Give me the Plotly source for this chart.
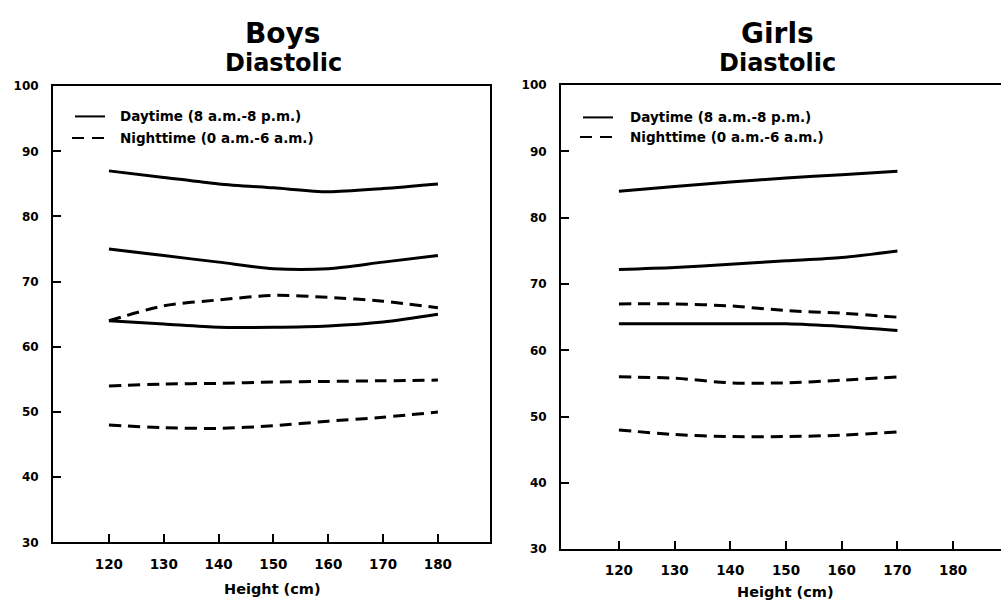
import plotly.graph_objects as go

# ---------------- data ----------------
heights_boys = [120, 130, 140, 150, 160, 170, 180]
heights_girls = [120, 130, 140, 150, 160, 170]
x_ticks = [120, 130, 140, 150, 160, 170, 180]
y_ticks = [30, 40, 50, 60, 70, 80, 90, 100]

boys_day_95 = [87, 86, 85, 84.4, 83.8, 84.3, 85]
boys_day_50 = [75, 74, 73, 72, 72, 73, 74]
boys_day_5 = [64, 63.5, 63, 63, 63.2, 63.8, 65]
boys_night_95 = [64, 66.3, 67.2, 67.9, 67.6, 67, 66]
boys_night_50 = [54, 54.3, 54.4, 54.6, 54.7, 54.8, 54.9]
boys_night_5 = [48, 47.6, 47.5, 47.9, 48.6, 49.2, 50]

girls_day_95 = [84, 84.7, 85.4, 86, 86.5, 87]
girls_day_50 = [72.2, 72.5, 73, 73.5, 74, 75]
girls_day_5 = [64, 64, 64, 64, 63.6, 63]
girls_night_95 = [67, 67, 66.7, 66, 65.6, 65]
girls_night_50 = [56, 55.8, 55.1, 55.1, 55.5, 56]
girls_night_5 = [48, 47.3, 47, 47, 47.2, 47.7]

legend_day = "Daytime (8 a.m.-8 p.m.)"
legend_night = "Nighttime (0 a.m.-6 a.m.)"

# ---------------- figure ----------------
W, H = 1001, 609
FONT = "DejaVu Sans"
DASH = "12px,7px"

def px(x):
    return x / W

def py(y):
    return 1 - y / H

fig = go.Figure()

def add_lines(xs, series, style, xa, ya):
    for s in series:
        fig.add_trace(go.Scatter(
            x=xs, y=s, mode="lines", xaxis=xa, yaxis=ya,
            line=dict(color="black", width=3, dash=style, shape="spline", smoothing=0.8),
            showlegend=False, hoverinfo="skip"))

add_lines(heights_boys, [boys_day_95, boys_day_50, boys_day_5], "solid", "x", "y")
add_lines(heights_boys, [boys_night_95, boys_night_50, boys_night_5], DASH, "x", "y")
add_lines(heights_girls, [girls_day_95, girls_day_50, girls_day_5], "solid", "x2", "y2")
add_lines(heights_girls, [girls_night_95, girls_night_50, girls_night_5], DASH, "x2", "y2")

xtickfont = dict(family=FONT, size=13.5, color="black", weight="bold")
ytickfont = dict(family=FONT, size=12, color="black", weight="bold")

xcommon = dict(tickvals=x_ticks, ticks="inside", ticklen=8, tickwidth=2, tickcolor="black",
               showline=True, linecolor="black", linewidth=2, showgrid=False, zeroline=False,
               tickfont=xtickfont, ticklabelstandoff=8, mirror=True)
ycommon = dict(tickvals=y_ticks, ticks="inside", ticklen=8, tickwidth=2, tickcolor="black",
               showline=True, linecolor="black", linewidth=2, showgrid=False, zeroline=False,
               tickfont=ytickfont, ticklabelstandoff=10, range=[30, 100])

fig.update_layout(
    width=W, height=H,
    margin=dict(l=0, r=0, t=0, b=0),
    paper_bgcolor="white", plot_bgcolor="white",
    showlegend=False,
    xaxis=dict(domain=[px(53), px(490)], range=[109.8, 189.5], anchor="y", **xcommon),
    yaxis=dict(domain=[py(548), py(81)], anchor="x", mirror=True, **ycommon),
    xaxis2=dict(domain=[px(561), 1.0], range=[109.6, 188.6], anchor="y2", **xcommon),
    yaxis2=dict(domain=[py(555), py(80)], anchor="x2", mirror=False, **ycommon),
)

annotations = []
def text(x, y, s, size, anchor="center"):
    annotations.append(dict(x=px(x), y=py(y), xref="paper", yref="paper", text=s,
                            showarrow=False, xanchor=anchor, yanchor="middle",
                            font=dict(family=FONT, size=size, color="black", weight="bold")))

# titles
text(283, 27, "Boys", 28)
text(283, 57, "Diastolic", 24)
text(777, 27, "Girls", 28)
text(777, 57, "Diastolic", 24)
# axis titles
text(272, 596, "Height (cm)", 14.5)
text(785, 599, "Height (cm)", 14.5)

shapes = []
def legend(x0, x1, xt, y1, y2):
    shapes.append(dict(type="line", xref="paper", yref="paper", x0=px(x0), x1=px(x1),
                       y0=py(y1), y1=py(y1), line=dict(color="black", width=2)))
    shapes.append(dict(type="line", xref="paper", yref="paper", x0=px(x0 - 3), x1=px(x1),
                       y0=py(y2), y1=py(y2), line=dict(color="black", width=2, dash="12px,8px")))
    text(xt, y1, legend_day, 13.5, "left")
    text(xt, y2, legend_night, 13.5, "left")

legend(75, 105, 118, 112, 134)
legend(583, 613, 628, 113, 133)

fig.update_layout(annotations=annotations, shapes=shapes)

fig.write_html("out.html",
               config={"displayModeBar": False, "staticPlot": True},
               post_script="document.body.style.margin='0px';document.body.style.overflow='hidden';")
